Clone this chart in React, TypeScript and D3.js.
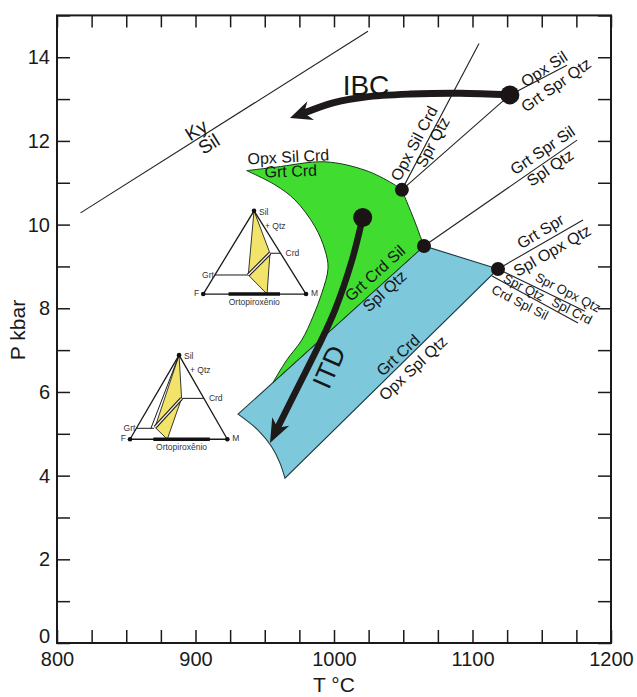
import React, { useEffect, useRef } from "react";
import * as d3 from "d3";

type Pt = [number, number];

const W = 637;
const H = 697;
const FONT = "'Liberation Sans', Arial, Helvetica, sans-serif";

// axes (T °C, P kbar)
const tempDomain: Pt = [800, 1200];
const pressDomain: Pt = [0, 15];
const tempTicks = d3.range(800, 1201, 25);
const pressTicks = d3.range(0, 16, 1);
const tempLabelled = [800, 900, 1000, 1100, 1200];
const tempTickLabels = ["800", "900", "1000", "1100", "1200"];
const pressLabelled = [0, 2, 4, 6, 8, 10, 12, 14];
const pressTickLabels = ["0", "2", "4", "6", "8", "10", "12", "14"];

// invariant points
const ipA: Pt = [1049, 10.83];
const ipB: Pt = [1065, 9.49];
const ipC: Pt = [1118.4, 8.94];
const ibcStart: Pt = [1127, 13.1];
const itdStart: Pt = [1020.7, 10.17];

// green field (Grt Crd)
const greenTop: Pt[] = [[937, 11.29], [957.4, 11.37], [993.5, 11.5], [1022.4, 11.3], [1041.9, 10.99], ipA];
const greenRight: Pt[] = [ipA, [1052.5, 10.55], [1058.5, 10.06], [1063.3, 9.63], ipB];
const greenCorner: Pt = [956, 6.23];
const greenInner: Pt[] = [
  greenCorner, [965.8, 6.76], [976.7, 7.24], [984.8, 7.8], [991.3, 8.37], [995.7, 8.96],
  [993.5, 9.39], [986.3, 9.95], [971.8, 10.59], [957.4, 10.95], [937, 11.29],
];

// blue field (Opx Spl)
const blueLeftTip: Pt = [930.7, 5.47];
const blueBottomTip: Pt = [964.6, 3.94];
const blueConcave: Pt[] = [blueBottomTip, [961, 4.3], [955, 4.69], [945.1, 5.09], blueLeftTip];

// univariant reaction lines
const reactionLines: Pt[][] = [
  [[817, 10.28], [1024.5, 14.62]],
  [ipA, [1104.7, 14.33]],
  [ipA, ibcStart, [1168.2, 13.81]],
  [ipB, [1175.5, 12.02]],
  [ipC, [1179.8, 10.11]],
  [ipC, [1181.2, 7.93]],
  [[1114.1, 8.77], [1176.2, 7.65]],
];

// P-T paths
const ibcPath: Pt[] = [ibcStart, [1091, 13.14], [1054.9, 13.12], [1022.4, 13.05], [999.3, 12.91], [968.2, 12.55]];
const itdPath: Pt[] = [itdStart, [1013, 9.15], [1000.7, 7.96], [988.4, 7.07], [974, 6.12], [953.8, 4.78]];

const smallDots: Pt[] = [ipA, ipB, ipC];
const bigDots: Pt[] = [ibcStart, itdStart];

const labels = [
  { text: "Ky", at: [900.4, 12.26], rot: -32, size: 19 },
  { text: "Sil", at: [909.7, 11.93], rot: -32, size: 19 },
  { text: "Opx Sil Crd", at: [967, 11.62], rot: -3, size: 16 },
  { text: "Grt Crd", at: [968.8, 11.28], rot: -2, size: 16 },
  { text: "Opx Sil Crd", at: [1057.8, 11.94], rot: -62, size: 16 },
  { text: "Spr Qtz", at: [1071.1, 11.97], rot: -62, size: 16 },
  { text: "Opx Sil", at: [1151.6, 13.72], rot: -33, size: 16 },
  { text: "Grt Spr Qtz", at: [1160.3, 13.34], rot: -35, size: 16 },
  { text: "Grt Spr Sil", at: [1150.5, 11.78], rot: -34, size: 16 },
  { text: "Spl Qtz", at: [1156, 11.36], rot: -34, size: 16 },
  { text: "Grt Spr", at: [1149, 9.84], rot: -31, size: 16 },
  { text: "Spl Opx Qtz", at: [1157.5, 9.38], rot: -30, size: 16 },
  { text: "Spr Opx Qtz", at: [1169, 8.38], rot: 27, size: 13 },
  { text: "Spl Crd", at: [1171.8, 7.94], rot: 27, size: 13 },
  { text: "Spr Qtz", at: [1137.2, 8.5], rot: 27, size: 13 },
  { text: "Crd Spl Sil", at: [1134.3, 8.14], rot: 27, size: 13 },
  { text: "Grt Crd Sil", at: [1029.6, 8.84], rot: -42, size: 16 },
  { text: "Spl Qtz", at: [1036.5, 8.41], rot: -42, size: 16 },
  { text: "Grt Crd", at: [1046.2, 6.88], rot: -43, size: 16 },
  { text: "Opx Spl Qtz", at: [1057, 6.57], rot: -43, size: 16 },
  { text: "IBC", at: [1023.1, 13.34], rot: 0, size: 28 },
  { text: "ITD", at: [996.4, 6.6], rot: -66, size: 27 },
];

// ternary insets, in triangle units (0..1 across base, 0..1 up to apex)
const insets = [
  {
    box: [905.6, 979.8, 8.34, 10.33],
    apex: [0.494, 1] as Pt,
    grtTie: [[0.113, 0.229], [0.438, 0.229]] as Pt[],
    crdTie: [[0.649, 0.49], [0.752, 0.49]] as Pt[],
    yellow: [[0.494, 1], [0.438, 0.229], [0.621, 0], [0.649, 0.49]] as Pt[],
    tie: [[0.438, 0.229], [0.649, 0.49]] as Pt[],
    extra: null as Pt[] | null,
    opx: [0.246, 0.747],
  },
  {
    box: [852.7, 923, 4.87, 6.88],
    apex: [0.504, 1] as Pt,
    grtTie: [[0.066, 0.13], [0.247, 0.13]] as Pt[],
    crdTie: [[0.53, 0.486], [0.759, 0.486]] as Pt[],
    yellow: [[0.504, 1], [0.257, 0.142], [0.383, 0], [0.53, 0.486]] as Pt[],
    tie: [[0.257, 0.142], [0.53, 0.486]] as Pt[],
    extra: [[0.504, 1], [0.215, 0.13]] as Pt[],
    opx: [0.24, 0.82],
  },
];

export default function App() {
  const ref = useRef<SVGSVGElement>(null);

  useEffect(() => {
    const svg = d3.select(ref.current!);
    svg.selectAll("*").remove();

    const x = d3.scaleLinear().domain(tempDomain).range([57, 611]);
    const y = d3.scaleLinear().domain(pressDomain).range([643, 15.4]);
    const line = (c: d3.CurveFactory) =>
      d3.line<Pt>().x(d => x(d[0])).y(d => y(d[1])).curve(c);
    const join = (segs: [Pt[], d3.CurveFactory][]) =>
      segs
        .map(([p, c], i) => {
          const s = line(c)(p) || "";
          return i ? s.replace(/^M/, "L") : s;
        })
        .join("") + "Z";

    const g = svg.append("g");

    // fields
    g.append("path")
      .attr("d", join([
        [[blueLeftTip, ipB, ipC, blueBottomTip], d3.curveLinear],
        [blueConcave, d3.curveCatmullRom],
      ]))
      .attr("fill", "#7dc8db")
      .attr("stroke", "#1c3a42")
      .attr("stroke-width", 1.1);

    g.append("path")
      .attr("d", join([
        [greenTop, d3.curveCatmullRom],
        [greenRight, d3.curveCatmullRom],
        [[ipB, greenCorner], d3.curveLinear],
        [greenInner, d3.curveCatmullRom],
      ]))
      .attr("fill", "#40dc30")
      .attr("stroke", "#183816")
      .attr("stroke-width", 1);

    // reactions
    reactionLines.forEach(pts => {
      g.append("path")
        .attr("d", line(d3.curveLinear)(pts))
        .attr("fill", "none")
        .attr("stroke", "#222")
        .attr("stroke-width", 1.1);
    });

    // insets
    insets.forEach(ins => {
      const ix = d3.scaleLinear().domain([0, 1]).range([x(ins.box[0]), x(ins.box[1])]);
      const iy = d3.scaleLinear().domain([0, 1]).range([y(ins.box[2]), y(ins.box[3])]);
      const il = d3.line<Pt>().x(d => ix(d[0])).y(d => iy(d[1]));
      const ig = g.append("g");
      const lab = (t: string, px: number, py: number, anchor = "start") =>
        ig.append("text").attr("x", px).attr("y", py).attr("dy", "0.35em")
          .attr("text-anchor", anchor).attr("font-size", 8.5)
          .attr("font-family", FONT).attr("fill", "#333").text(t);

      ig.append("path").attr("d", il(ins.yellow) + "Z")
        .attr("fill", "#f2e46a").attr("stroke", "#222").attr("stroke-width", 0.9);
      ig.append("path").attr("d", il([[0, 0], ins.apex, [1, 0]]) + "Z")
        .attr("fill", "none").attr("stroke", "#1a1a1a").attr("stroke-width", 1.3);
      [ins.grtTie, ins.crdTie].forEach(t =>
        ig.append("path").attr("d", il(t)).attr("stroke", "#1a1a1a").attr("stroke-width", 1));
      if (ins.extra) ig.append("path").attr("d", il(ins.extra)).attr("stroke", "#1a1a1a").attr("stroke-width", 1);
      ig.append("path").attr("d", il(ins.tie)).attr("stroke", "#1a1a1a").attr("stroke-width", 3.6);
      ig.append("path").attr("d", il(ins.tie)).attr("stroke", "#f4f0f0").attr("stroke-width", 1.4);
      ig.append("path").attr("d", il([[ins.opx[0], 0], [ins.opx[1], 0]]))
        .attr("stroke", "#111").attr("stroke-width", 3.4);
      [[0, 0], ins.apex, [1, 0]].forEach(p =>
        ig.append("circle").attr("cx", ix(p[0])).attr("cy", iy(p[1])).attr("r", 2.3).attr("fill", "#111"));

      lab("Sil", ix(ins.apex[0]) + 5, iy(1) + 1);
      lab("+ Qtz", ix(ins.apex[0]) + 11, iy(1) + 15);
      lab("Crd", ix(ins.crdTie[1][0]) + 5, iy(ins.crdTie[1][1]));
      lab("Grt", ix(ins.grtTie[0][0]) - 1, iy(ins.grtTie[0][1]), "end");
      lab("F", ix(0) - 4, iy(0) - 1, "end");
      lab("M", ix(1) + 5, iy(0) - 1);
      lab("Ortopiroxênio", ix((ins.opx[0] + ins.opx[1]) / 2), iy(0) + 8, "middle");
    });

    // P-T paths with arrowheads
    const arrow = (pts: Pt[], sw: number, hl: number, hw: number) => {
      const p: Pt[] = pts.map(d => [x(d[0]), y(d[1])]);
      const tip = p[p.length - 1];
      const prev = p[p.length - 2];
      const len = Math.hypot(tip[0] - prev[0], tip[1] - prev[1]);
      const ux = (tip[0] - prev[0]) / len;
      const uy = (tip[1] - prev[1]) / len;
      const nx = -uy;
      const ny = ux;
      const base: Pt = [tip[0] - ux * hl, tip[1] - uy * hl];
      const shaft = [...p.slice(0, -1), [base[0] + ux * 3, base[1] + uy * 3] as Pt];
      g.append("path")
        .attr("d", d3.line().curve(d3.curveCatmullRom)(shaft))
        .attr("fill", "none")
        .attr("stroke", "#1e1a1a")
        .attr("stroke-width", sw)
        .attr("stroke-linecap", "round");
      const head = [
        tip,
        [base[0] + nx * hw - ux * 2, base[1] + ny * hw - uy * 2],
        [base[0] + ux * 5, base[1] + uy * 5],
        [base[0] - nx * hw - ux * 2, base[1] - ny * hw - uy * 2],
      ];
      g.append("path").attr("d", "M" + head.map(q => q.join(",")).join("L") + "Z").attr("fill", "#1e1a1a");
    };
    arrow(ibcPath, 7, 20, 10);
    arrow(itdPath, 6.5, 22, 9.5);

    // invariant points
    smallDots.forEach(d =>
      g.append("circle").attr("cx", x(d[0])).attr("cy", y(d[1])).attr("r", 7).attr("fill", "#1a1414"));
    bigDots.forEach(d =>
      g.append("circle").attr("cx", x(d[0])).attr("cy", y(d[1])).attr("r", 9.5).attr("fill", "#1a1414"));

    // labels
    labels.forEach(l => {
      const px = x(l.at[0]);
      const py = y(l.at[1]);
      g.append("text")
        .attr("transform", `translate(${px},${py}) rotate(${l.rot})`)
        .attr("text-anchor", "middle")
        .attr("dy", "0.35em")
        .attr("font-size", l.size)
        .attr("font-family", FONT)
        .attr("fill", "#161616")
        .text(l.text);
    });

    // axes
    const style = (a: d3.Selection<SVGGElement, unknown, null, undefined>, size: number) => {
      a.select(".domain").remove();
      a.selectAll(".tick line").attr("stroke", "#1a1a1a").attr("stroke-width", 1.5);
      a.selectAll("text").attr("font-size", size).attr("font-family", FONT).attr("fill", "#1a1a1a");
    };
    const tf = (vals: number[], labs: string[]) => (d: d3.NumberValue) => {
      const i = vals.indexOf(+d);
      return i >= 0 ? labs[i] : "";
    };
    const ax = svg.append("g").attr("transform", "translate(0,643)")
      .call(d3.axisBottom(x).tickValues(tempTicks).tickSize(-13).tickPadding(9).tickFormat(tf(tempLabelled, tempTickLabels)));
    style(ax as any, 20);
    const axT = svg.append("g").attr("transform", `translate(0,${y(15)})`)
      .call(d3.axisTop(x).tickValues(tempTicks).tickSize(-12).tickFormat(() => ""));
    style(axT as any, 20);
    const ay = svg.append("g").attr("transform", "translate(57,0)")
      .call(d3.axisLeft(y).tickValues(pressTicks).tickSize(-13).tickPadding(7).tickFormat(tf(pressLabelled, pressTickLabels)));
    style(ay as any, 20);
    // lift the zero label clear of the T axis labels
    ay.selectAll<SVGTextElement, number>(".tick text").filter(d => d === 0).attr("y", -7);
    const ayR = svg.append("g").attr("transform", "translate(611,0)")
      .call(d3.axisRight(y).tickValues(pressTicks).tickSize(-13).tickFormat(() => ""));
    style(ayR as any, 20);

    svg.append("rect")
      .attr("x", x(800)).attr("y", y(15))
      .attr("width", x(1200) - x(800)).attr("height", y(0) - y(15))
      .attr("fill", "none").attr("stroke", "#1a1a1a").attr("stroke-width", 2);

    svg.append("text")
      .attr("transform", "translate(25,330) rotate(-90)")
      .attr("text-anchor", "middle")
      .attr("font-size", 21)
      .attr("font-family", FONT)
      .attr("fill", "#1a1a1a")
      .text("P kbar");
    svg.append("text")
      .attr("x", (x(800) + x(1200)) / 2)
      .attr("y", 692)
      .attr("text-anchor", "middle")
      .attr("font-size", 21)
      .attr("font-family", FONT)
      .attr("fill", "#1a1a1a")
      .text("T °C");
  }, []);

  return (
    <svg
      ref={ref}
      width={W}
      height={H}
      style={{ position: "absolute", left: 0, top: 0, background: "#fff" }}
    />
  );
}
